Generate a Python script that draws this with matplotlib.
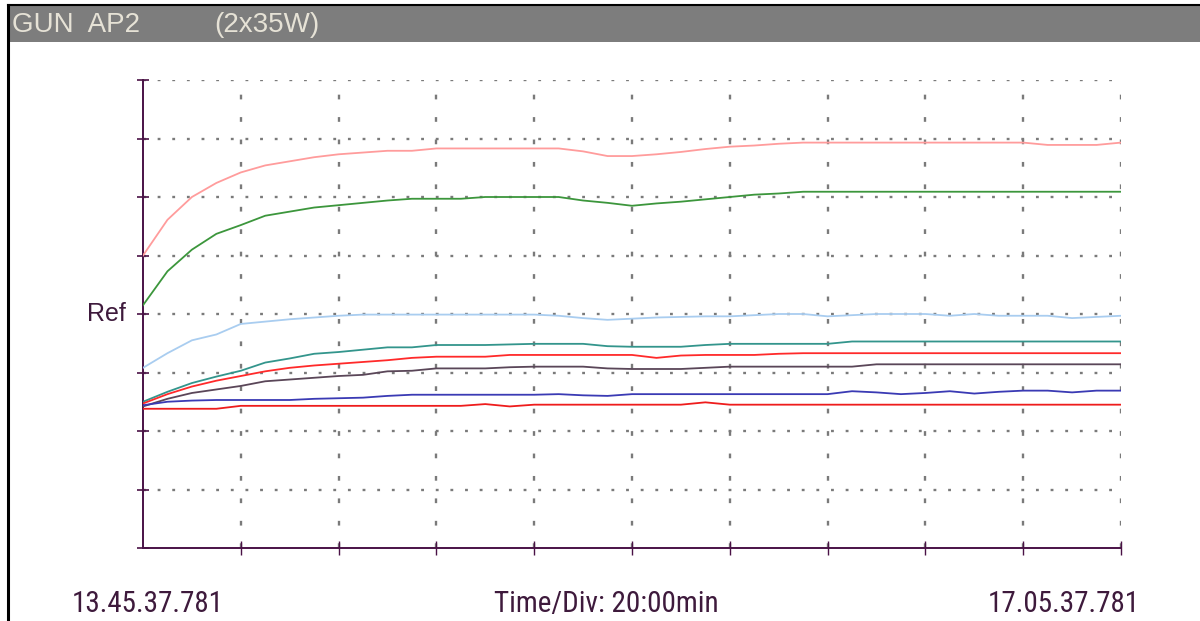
import numpy as np
import matplotlib
matplotlib.use("Agg")
import matplotlib.pyplot as plt
from matplotlib.patches import Rectangle
from matplotlib.lines import Line2D

# data: one sample every 5 min, 200 min total, y in divisions (Ref = 4)
minutes = np.arange(41) * 5

pink = [5.00, 5.61, 6.00, 6.24, 6.42, 6.54, 6.61, 6.68, 6.73, 6.76, 6.79, 6.79, 6.83, 6.83,
        6.83, 6.83, 6.83, 6.83, 6.78, 6.70, 6.70, 6.73, 6.77, 6.82, 6.86, 6.88, 6.91, 6.93,
        6.93, 6.93, 6.93, 6.93, 6.93, 6.93, 6.93, 6.93, 6.93, 6.89, 6.89, 6.89, 6.93]
green = [4.15, 4.73, 5.10, 5.37, 5.52, 5.68, 5.75, 5.82, 5.86, 5.90, 5.94, 5.97, 5.97, 5.97,
         6.00, 6.00, 6.00, 6.00, 5.94, 5.90, 5.85, 5.89, 5.92, 5.96, 6.00, 6.04, 6.06, 6.09,
         6.09, 6.09, 6.09, 6.09, 6.09, 6.09, 6.09, 6.09, 6.09, 6.09, 6.09, 6.09, 6.09]
light_blue = [3.08, 3.33, 3.55, 3.65, 3.83, 3.87, 3.91, 3.94, 3.97, 3.99, 3.99, 3.99, 3.99, 3.99,
              3.99, 3.99, 3.99, 3.97, 3.93, 3.90, 3.92, 3.94, 3.95, 3.96, 3.96, 3.98, 4.00, 4.00,
              3.96, 3.98, 4.00, 4.00, 4.00, 3.97, 4.00, 3.97, 3.97, 3.97, 3.93, 3.95, 3.97]
teal = [2.50, 2.67, 2.82, 2.93, 3.03, 3.17, 3.24, 3.32, 3.35, 3.39, 3.43, 3.43, 3.47, 3.47,
        3.47, 3.48, 3.49, 3.49, 3.49, 3.45, 3.44, 3.44, 3.44, 3.47, 3.49, 3.49, 3.49, 3.49,
        3.49, 3.53, 3.53, 3.53, 3.53, 3.53, 3.53, 3.53, 3.53, 3.53, 3.53, 3.53, 3.53]
red = [2.47, 2.63, 2.76, 2.86, 2.94, 3.02, 3.08, 3.12, 3.15, 3.18, 3.21, 3.25, 3.27, 3.27,
       3.27, 3.30, 3.30, 3.30, 3.30, 3.30, 3.30, 3.25, 3.29, 3.30, 3.30, 3.30, 3.32, 3.33,
       3.33, 3.33, 3.33, 3.33, 3.33, 3.33, 3.33, 3.33, 3.33, 3.33, 3.33, 3.33, 3.33]
mauve = [2.42, 2.55, 2.65, 2.71, 2.77, 2.85, 2.88, 2.91, 2.94, 2.96, 3.02, 3.03, 3.07, 3.07,
         3.07, 3.09, 3.10, 3.10, 3.10, 3.07, 3.06, 3.06, 3.06, 3.08, 3.10, 3.10, 3.10, 3.10,
         3.10, 3.10, 3.14, 3.14, 3.14, 3.14, 3.14, 3.14, 3.14, 3.14, 3.14, 3.14, 3.14]
blue = [2.44, 2.50, 2.52, 2.53, 2.53, 2.53, 2.53, 2.55, 2.56, 2.57, 2.60, 2.62, 2.62, 2.62,
        2.62, 2.62, 2.62, 2.63, 2.61, 2.60, 2.63, 2.63, 2.63, 2.63, 2.63, 2.63, 2.63, 2.63,
        2.63, 2.68, 2.66, 2.63, 2.65, 2.68, 2.64, 2.67, 2.69, 2.69, 2.66, 2.69, 2.69]
red_low = [2.38, 2.38, 2.38, 2.38, 2.43, 2.43, 2.43, 2.43, 2.43, 2.43, 2.43, 2.43, 2.43, 2.43,
           2.46, 2.42, 2.45, 2.45, 2.45, 2.45, 2.45, 2.45, 2.45, 2.49, 2.45, 2.45, 2.45, 2.45,
           2.45, 2.45, 2.45, 2.45, 2.45, 2.45, 2.45, 2.45, 2.45, 2.45, 2.45, 2.45, 2.45]

series = [(pink, "#ff9c9c"), (green, "#3c963c"), (light_blue, "#a9cdf0"), (teal, "#33958c"),
          (red, "#ff2a2a"), (mauve, "#5a4658"), (blue, "#3a3ab4"), (red_low, "#ee1c1c")]

start_label = "13.45.37.781"
end_label = "17.05.37.781"
div_label = "Time/Div: 20:00min"

axis_col = "#4a1246"
text_col = "#3e1a3c"
W, H = 1200, 621

fig = plt.figure(figsize=(12, 6.21), dpi=100)
fig.patch.set_facecolor("white")

# frame and header bar
fig.add_artist(Rectangle((8 / W, 1 - 42 / H), 1 - 8 / W, 36 / H, transform=fig.transFigure,
                         facecolor="#7d7d7d", edgecolor="none"))
fig.add_artist(Line2D([8 / W, 1], [1 - 5 / H, 1 - 5 / H], transform=fig.transFigure,
                      color="black", lw=1.5))
fig.add_artist(Line2D([8 / W, 8 / W], [0, 1 - 5 / H], transform=fig.transFigure,
                      color="black", lw=2.2))
fig.text(12 / W, 1 - 25 / H, "GUN  AP2", color="#e6e2d6", fontsize=20,
         family="Liberation Sans", va="center", ha="left")
fig.text(214 / W, 1 - 25 / H, "(2x35W)", color="#e6e2d6", fontsize=20,
         family="Liberation Sans", va="center", ha="left")

ax = fig.add_axes([143 / W, (H - 548) / H, (1121 - 143) / W, (548 - 80) / H])
ax.set_xlim(0, 200)
ax.set_ylim(0, 8)

# dotted grid
for yv in range(1, 9):
    ax.axhline(yv, color="#7a7a7a", lw=1.7, linestyle=(0, (1.2, 5.0)), zorder=1)
for xv in range(20, 201, 20):
    ax.axvline(xv, color="#7a7a7a", lw=1.7, linestyle=(0, (2.0, 7.5)), zorder=1)

for vals, col in series:
    ax.plot(minutes, vals, color=col, lw=1.3, zorder=3)

for side in ["top", "right"]:
    ax.spines[side].set_visible(False)
for side in ["left", "bottom"]:
    ax.spines[side].set_color(axis_col)
    ax.spines[side].set_linewidth(1.4)

ax.set_yticks(range(0, 9))
ax.set_xticks(range(20, 201, 20))
ax.tick_params(axis="y", direction="inout", length=9, width=1.2, color=axis_col, labelleft=False)
ax.tick_params(axis="x", direction="inout", length=10, width=1.0, color=axis_col, labelbottom=False)

ax.text(-3.5, 4, "Ref", color=text_col, fontsize=18, family="Liberation Sans",
        ha="right", va="center", transform=ax.transData)

narrow = ["Roboto Condensed", "Liberation Sans", "DejaVu Sans"]
fig.text(148 / W, 1 - 604 / H, start_label, color=text_col, fontsize=21, family=narrow,
         ha="center", va="center")
fig.text(606 / W, 1 - 604 / H, div_label, color=text_col, fontsize=21, family=narrow,
         ha="center", va="center")
fig.text(1140 / W, 1 - 604 / H, end_label, color=text_col, fontsize=21, family=narrow,
         ha="right", va="center")

fig.savefig("out.png", dpi=100)
